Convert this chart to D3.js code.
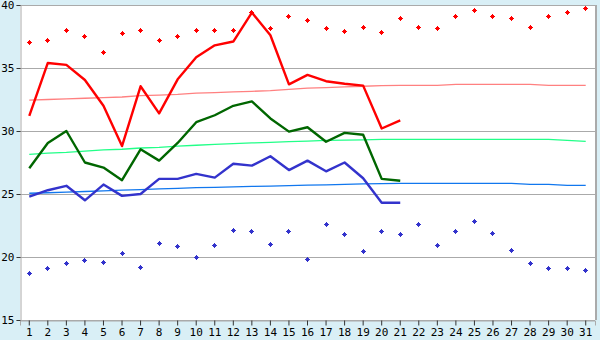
<!DOCTYPE html>
<html><head><meta charset="utf-8">
<script src="https://cdn.jsdelivr.net/npm/d3@7"></script>
<style>html,body{margin:0;padding:0;background:#d9eff6;}svg{display:block;}</style>
</head><body>
<svg id="chart" width="600" height="340"></svg>
<script>
const days = d3.range(1, 32);
const yTicks = [15, 20, 25, 30, 35, 40];
// daily observed (days 1-21)
const dailyMax = [31.2,35.4,35.25,34.05,32.0,28.8,33.55,31.4,34.1,35.85,36.8,37.1,39.4,37.6,33.7,34.45,33.95,33.75,33.6,30.2,30.85];
const dailyMean = [27.05,29.05,30.0,27.5,27.1,26.1,28.55,27.65,29.05,30.7,31.25,32.0,32.35,31.0,29.95,30.3,29.15,29.85,29.7,26.2,26.05];
const dailyMin = [24.8,25.3,25.65,24.5,25.75,24.85,25.0,26.2,26.2,26.6,26.3,27.4,27.25,28.0,26.9,27.65,26.8,27.5,26.25,24.3,24.3];
// record high / record low per day
const recordMax = [37.05,37.2,38.0,37.5,36.25,37.75,38.0,37.2,37.5,38.0,38.0,38.0,39.4,38.15,39.05,38.8,38.15,37.9,38.2,37.8,38.95,38.2,38.15,39.1,39.6,39.1,38.95,38.2,39.1,39.4,39.7];
const recordMin = [18.7,19.05,19.45,19.75,19.6,20.3,19.2,21.1,20.85,20.0,20.95,22.1,22.05,21.0,22.05,19.8,22.6,21.8,20.45,22.05,21.8,22.6,20.95,22.05,22.85,21.9,20.55,19.5,19.05,19.05,18.95];
// normals
const normalMax = [32.45,32.5,32.55,32.6,32.65,32.7,32.8,32.85,32.9,33.0,33.05,33.1,33.15,33.2,33.3,33.4,33.45,33.5,33.55,33.6,33.62,33.62,33.62,33.7,33.7,33.7,33.7,33.7,33.62,33.62,33.62];
const normalMean = [28.15,28.25,28.3,28.4,28.5,28.55,28.65,28.7,28.8,28.87,28.94,29.0,29.05,29.1,29.15,29.2,29.25,29.28,29.3,29.33,29.34,29.34,29.34,29.34,29.34,29.34,29.34,29.34,29.34,29.26,29.18];
const normalMin = [25.06,25.1,25.15,25.2,25.25,25.3,25.35,25.4,25.45,25.5,25.53,25.56,25.6,25.63,25.66,25.7,25.73,25.76,25.8,25.83,25.85,25.85,25.85,25.85,25.85,25.85,25.85,25.77,25.77,25.69,25.69];

const svg = d3.select("#chart");
const L = 20, R = 595, T = 5, B = 320;
const x = d3.scaleBand().domain(days).range([L, R]);
const cx = d => x(d) + x.bandwidth() / 2;
const y = d3.scaleLinear().domain([15, 40]).range([B, T]);

svg.append("rect").attr("x", L).attr("y", T).attr("width", R - L).attr("height", B - T).attr("fill", "#fff");

// grid
svg.append("g").selectAll("line").data(yTicks).join("line")
  .attr("x1", L).attr("x2", R).attr("y1", d => Math.round(y(d)) + 0.5).attr("y2", d => Math.round(y(d)) + 0.5)
  .attr("stroke", "#aaaaaa").attr("stroke-width", 1).attr("shape-rendering", "crispEdges");
// right border
svg.append("line").attr("x1", R + 0.5).attr("x2", R + 0.5).attr("y1", T).attr("y2", B)
  .attr("stroke", "#aaaaaa").attr("stroke-width", 2).attr("shape-rendering", "crispEdges");

// axes
const yAxis = d3.axisLeft(y).tickValues(yTicks).tickSize(4).tickPadding(2).tickFormat(d3.format("d"));
const gy = svg.append("g").attr("transform", `translate(${L + 0.5},0)`).call(yAxis);
const xAxis = d3.axisBottom(x).tickSize(5).tickPadding(3);
const gx = svg.append("g").attr("transform", `translate(0,${B + 0.5})`).call(xAxis);
[gy, gx].forEach(g => {
  g.select(".domain").attr("stroke", "#aaaaaa");
  g.selectAll(".tick line").attr("stroke", "#333");
  g.selectAll("text").attr("font-family", "DejaVu Sans Mono, monospace").attr("font-size", 11).attr("fill", "#000");
});
gy.selectAll(".tick text").attr("dy", "0.35em");

const line = arr => d3.line().x((v, i) => cx(days[i])).y(v => y(v))(arr);

// normals (thin)
const thin = [[normalMax, "#ff8080"], [normalMean, "#22ff88"], [normalMin, "#1177ee"]];
thin.forEach(([arr, c]) => svg.append("path").attr("d", line(arr)).attr("fill", "none").attr("stroke", c).attr("stroke-width", 1.3));

// observed (thick)
const thick = [[dailyMax, "#ff0000"], [dailyMean, "#006600"], [dailyMin, "#3333cc"]];
thick.forEach(([arr, c]) => svg.append("path").attr("d", line(arr)).attr("fill", "none").attr("stroke", c).attr("stroke-width", 2.4).attr("stroke-linejoin", "round"));

// records (cross markers)
const plus = "M-1.5,-1.5h3v3h-3z M-2.5,-0.5h5v1h-5z M-0.5,-2.5h1v5h-1z";
[[recordMax, "#ff0000"], [recordMin, "#3333cc"]].forEach(([arr, c]) => {
  svg.append("g").selectAll("path").data(arr).join("path")
    .attr("d", plus).attr("fill", c)
    .attr("transform", (v, i) => `translate(${Math.floor(cx(days[i])) + 0.5},${Math.floor(y(v)) + 0.5})`);
});
</script>
</body></html>
